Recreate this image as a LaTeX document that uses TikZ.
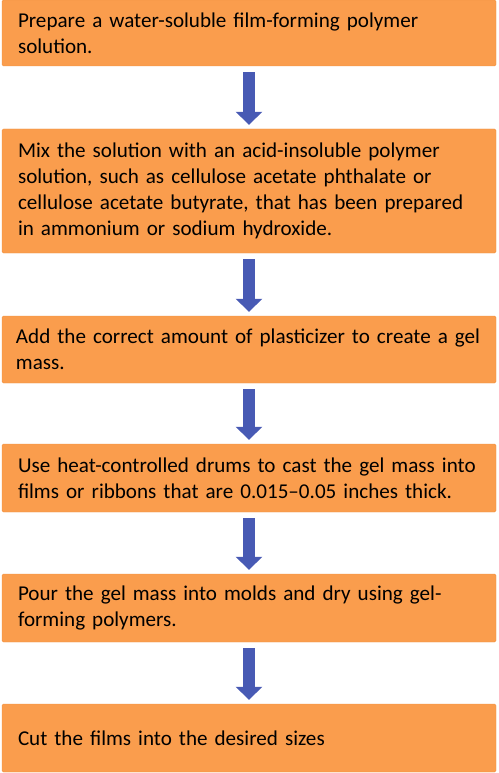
\documentclass[tikz,border=0pt]{standalone}
\usepackage{fontspec}
\setmainfont{Carlito}
\usetikzlibrary{arrows.meta}
\definecolor{boxfill}{RGB}{250,157,77}
\definecolor{boxline}{RGB}{240,145,65}
\definecolor{arrowblue}{RGB}{72,90,180}
\hbadness=10000 \hfuzz=40pt
\begin{document}
\begin{tikzpicture}[x=1pt,y=1pt,
  stepbox/.style={rectangle, rounded corners=1.5pt, fill=boxfill, draw=boxline, line width=0.4pt,
    minimum width=494pt, text width=462pt, inner xsep=16pt, align=left,
    font=\fontsize{21.1}{26}\selectfont, text=black},
  flowarrow/.style={draw=arrowblue, line width=12pt, line cap=butt,
    -{Triangle[width=26pt,length=13pt]}, shorten <=6pt, shorten >=4pt}]
\useasboundingbox (0,0) rectangle (498,-773);
\node[stepbox, minimum height=66pt] (b1) at (249,-33) {Prepare a water-soluble film-forming polymer\\solution.};
\node[stepbox, minimum height=124pt] (b2) at (249,-191) {Mix the solution with an acid-insoluble polymer\\solution, such as cellulose acetate phthalate or\\cellulose acetate butyrate, that has been prepared\\in ammonium or sodium hydroxide.};
\node[stepbox, minimum height=67pt] (b3) at (249,-349.5) {\hspace*{-2pt}\mbox{Add the correct amount of plasticizer to create a gel}\\\hspace*{-2pt}mass.};
\node[stepbox, minimum height=68pt] (b4) at (249,-478) {Use heat-controlled drums to cast the gel mass into\\films or ribbons that are 0.015–0.05 inches thick.};
\node[stepbox, minimum height=68pt] (b5) at (249,-608) {Pour the gel mass into molds and dry using gel-\\forming polymers.};
\node[stepbox, minimum height=68pt] (b6) at (249,-738) {Cut the films into the desired sizes};
\draw[flowarrow] (b1.south) -- (b2.north);
\draw[flowarrow] (b2.south) -- (b3.north);
\draw[flowarrow] (b3.south) -- (b4.north);
\draw[flowarrow] (b4.south) -- (b5.north);
\draw[flowarrow] (b5.south) -- (b6.north);
\end{tikzpicture}
\end{document}
